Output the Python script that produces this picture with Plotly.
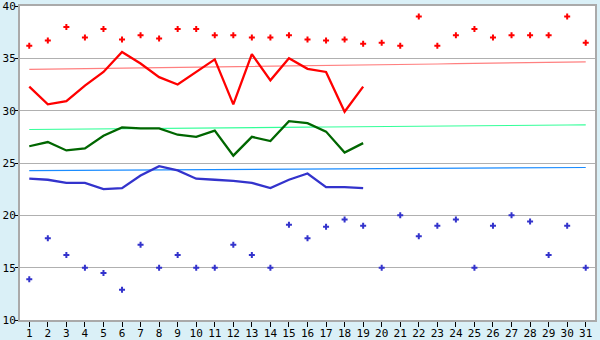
import plotly.graph_objects as go

days = list(range(1, 32))
tick_labels = [str(d) for d in days]
y_ticks = [10, 15, 20, 25, 30, 35, 40]

max_points = [36.2, 36.7, 38.0, 37.0, 37.8, 36.8, 37.2, 36.9, 37.8, 37.8,
              37.2, 37.2, 37.0, 37.0, 37.2, 36.8, 36.7, 36.8, 36.4, 36.5,
              36.2, 39.0, 36.2, 37.2, 37.8, 37.0, 37.2, 37.2, 37.2, 39.0, 36.5]
min_points = [13.9, 17.8, 16.2, 15.0, 14.5, 12.9, 17.2, 15.0, 16.2, 15.0,
              15.0, 17.2, 16.2, 15.0, 19.1, 17.8, 18.9, 19.6, 19.0, 15.0,
              20.0, 18.0, 19.0, 19.6, 15.0, 19.0, 20.0, 19.4, 16.2, 19.0, 15.0]

cur_days = list(range(1, 20))
cur_max = [32.3, 30.6, 30.9, 32.4, 33.7, 35.6, 34.5, 33.2, 32.5, 33.7,
           34.9, 30.6, 35.4, 32.9, 35.0, 34.0, 33.7, 29.9, 32.3]
cur_mean = [26.6, 27.0, 26.2, 26.4, 27.6, 28.4, 28.3, 28.3, 27.7, 27.5,
            28.1, 25.7, 27.5, 27.1, 29.0, 28.8, 28.0, 26.0, 26.9]
cur_min = [23.5, 23.4, 23.1, 23.1, 22.5, 22.6, 23.8, 24.7, 24.3, 23.5,
           23.4, 23.3, 23.1, 22.6, 23.4, 24.0, 22.7, 22.7, 22.6]

avg_max = [33.95, 33.97, 34.0, 34.02, 34.04, 34.07, 34.09, 34.11, 34.14, 34.16,
           34.18, 34.21, 34.23, 34.25, 34.28, 34.3, 34.32, 34.35, 34.37, 34.39,
           34.42, 34.44, 34.46, 34.49, 34.51, 34.53, 34.56, 34.58, 34.6, 34.63, 34.66]
avg_mean = [28.2, 28.21, 28.23, 28.24, 28.26, 28.27, 28.29, 28.3, 28.32, 28.33,
            28.35, 28.36, 28.38, 28.39, 28.41, 28.42, 28.44, 28.45, 28.47, 28.48,
            28.5, 28.51, 28.53, 28.54, 28.56, 28.57, 28.59, 28.6, 28.62, 28.63, 28.65]
avg_min = [24.27, 24.28, 24.29, 24.3, 24.31, 24.32, 24.33, 24.34, 24.35, 24.36,
           24.37, 24.38, 24.39, 24.4, 24.41, 24.42, 24.43, 24.44, 24.45, 24.46,
           24.47, 24.48, 24.49, 24.5, 24.51, 24.52, 24.53, 24.54, 24.55, 24.56, 24.57]

fig = go.Figure()
fig.add_trace(go.Scatter(x=days, y=avg_max, mode="lines",
                         line=dict(color="#ff8080", width=1.2)))
fig.add_trace(go.Scatter(x=days, y=avg_mean, mode="lines",
                         line=dict(color="#33ff99", width=1.2)))
fig.add_trace(go.Scatter(x=days, y=avg_min, mode="lines",
                         line=dict(color="#1a8cff", width=1.2)))
fig.add_trace(go.Scatter(x=cur_days, y=cur_max, mode="lines",
                         line=dict(color="#ff0000", width=2.3)))
fig.add_trace(go.Scatter(x=cur_days, y=cur_mean, mode="lines",
                         line=dict(color="#006600", width=2.3)))
fig.add_trace(go.Scatter(x=cur_days, y=cur_min, mode="lines",
                         line=dict(color="#3333cc", width=2.3)))
fig.add_trace(go.Scatter(x=days, y=max_points, mode="markers",
                         marker=dict(symbol="cross", size=5, color="#ff0000", line=dict(width=0))))
fig.add_trace(go.Scatter(x=days, y=min_points, mode="markers",
                         marker=dict(symbol="cross", size=5, color="#3333cc", line=dict(width=0))))

fig.update_layout(
    width=600, height=340,
    margin=dict(l=20, r=5, t=6, b=20),
    paper_bgcolor="#daf0f7",
    plot_bgcolor="#ffffff",
    showlegend=False,
    font=dict(family="DejaVu Sans Mono", size=11, color="#000000"),
)
fig.update_xaxes(range=[0.5, 31.5], tickvals=days, ticktext=tick_labels,
                 showgrid=False, zeroline=False, automargin=False,
                 showline=True, linecolor="#aaaaaa", linewidth=2, mirror=True,
                 ticks="outside", ticklen=5, tickcolor="#000000", tickwidth=1,
                 ticklabelstandoff=-3, ticklabeloverflow="allow",
                 tickfont=dict(size=11))
fig.update_yaxes(range=[10, 40], tickmode="array", tickvals=y_ticks,
                 ticktext=[str(v) for v in y_ticks],
                 showgrid=True, gridcolor="#b0b0b0", gridwidth=1, zeroline=False,
                 automargin=False,
                 showline=True, linecolor="#aaaaaa", linewidth=2, mirror=True,
                 ticks="outside", ticklen=3, tickcolor="#000000", tickwidth=1,
                 ticklabelstandoff=-3, ticklabeloverflow="allow",
                 tickfont=dict(size=11))

fig.write_html("out.html")
